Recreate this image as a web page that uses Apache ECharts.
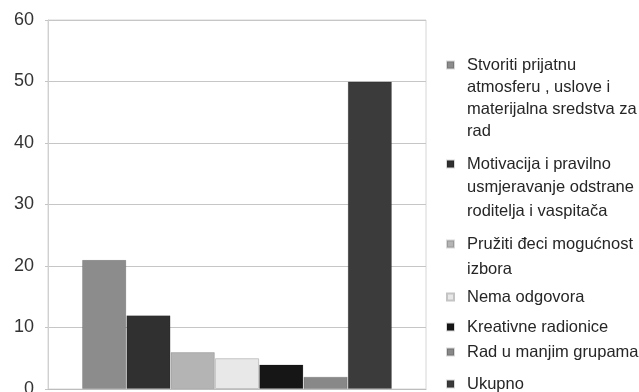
<!DOCTYPE html>
<html>
<head>
<meta charset="utf-8">
<script src="https://cdn.jsdelivr.net/npm/echarts@6/dist/echarts.min.js"></script>
<style>
  html, body { margin: 0; padding: 0; background: #ffffff; }
  #chart { width: 639px; height: 392px; }
</style>
</head>
<body>
<div id="chart"></div>
<script>
// Survey answers: one group of bars, one bar per answer
const categories = [''];
const seriesNames = [
  'Stvoriti prijatnu atmosferu , uslove i materijalna sredstva za rad',
  'Motivacija i pravilno usmjeravanje odstrane roditelja i vaspitača',
  'Pružiti đeci mogućnost izbora',
  'Nema odgovora',
  'Kreativne radionice',
  'Rad u manjim grupama',
  'Ukupno'
];
const seriesValues = [21, 12, 6, 5, 4, 2, 50];

// Legend text, wrapped as it is printed
const legendLines = [
  ['Stvoriti prijatnu', 'atmosferu , uslove i', 'materijalna sredstva za', 'rad'],
  ['Motivacija i pravilno', 'usmjeravanje odstrane', 'roditelja i vaspitača'],
  ['Pružiti đeci mogućnost', 'izbora'],
  ['Nema odgovora'],
  ['Kreativne radionice'],
  ['Rad u manjim grupama'],
  ['Ukupno']
];

// Presentation
const barColors = ['#8c8c8c', '#303030', '#b4b4b4', '#e8e8e8', '#161616', '#888888', '#3b3b3b'];
const legendCenters = [65, 164, 244, 297, 327, 352, 384];
const legendLineHeights = [22, 23.5, 25, 20, 20, 20, 20];

const series = seriesNames.map((name, i) => ({
  name: name,
  type: 'bar',
  data: [seriesValues[i]],
  barGap: '0%',
  barCategoryGap: '18%',
  itemStyle: {
    color: barColors[i],
    borderColor: i === 3 ? '#c4c4c4' : 'rgba(0,0,0,0.15)',
    borderWidth: 1
  },
  emphasis: { disabled: true }
}));

// One legend block per answer so the marker sits beside the first printed line.
// Blank lines above the text keep the first line centred on the marker.
const legends = seriesNames.map((name, i) => {
  const k = legendLines[i].length;
  const lh = legendLineHeights[i];
  const blockH = (2 * k - 1) * lh;
  const text = '\n'.repeat(k - 1) + legendLines[i].join('\n');
  return {
    data: [name],
    orient: 'vertical',
    left: 446,
    top: legendCenters[i] - blockH / 2,
    padding: 0,
    itemWidth: 7,
    itemHeight: 7,
    icon: 'rect',
    selectedMode: false,
    formatter: () => text,
    textStyle: {
      fontFamily: 'Liberation Sans, Arial, sans-serif',
      fontSize: 16.5,
      color: '#262626',
      lineHeight: lh,
      padding: [0, 0, 0, 8]
    }
  };
});

const chart = echarts.init(document.getElementById('chart'), null, { renderer: 'canvas' });
chart.setOption({
  animation: false,
  backgroundColor: '#ffffff',
  legend: legends,
  grid: {
    left: 48,
    right: 213,
    top: 20,
    bottom: 3,
    outerBoundsMode: 'none',
    containLabel: false,
    show: true,
    borderColor: '#d6d6d6',
    borderWidth: 1,
    backgroundColor: 'transparent'
  },
  xAxis: {
    type: 'category',
    data: categories,
    axisLine: { show: true, lineStyle: { color: '#bdbdbd' } },
    axisTick: { show: false },
    axisLabel: { show: false }
  },
  yAxis: {
    type: 'value',
    min: 0,
    max: 60,
    interval: 10,
    axisLine: { show: true, lineStyle: { color: '#d0d0d0' } },
    axisTick: { show: true, length: 3, lineStyle: { color: '#c4c4c4' } },
    axisLabel: {
      margin: 14,
      fontFamily: 'Liberation Sans, Arial, sans-serif',
      fontSize: 18,
      color: '#333333'
    },
    splitLine: { show: true, lineStyle: { color: '#c6c6c6', width: 1 } }
  },
  series: series
});
</script>
</body>
</html>
